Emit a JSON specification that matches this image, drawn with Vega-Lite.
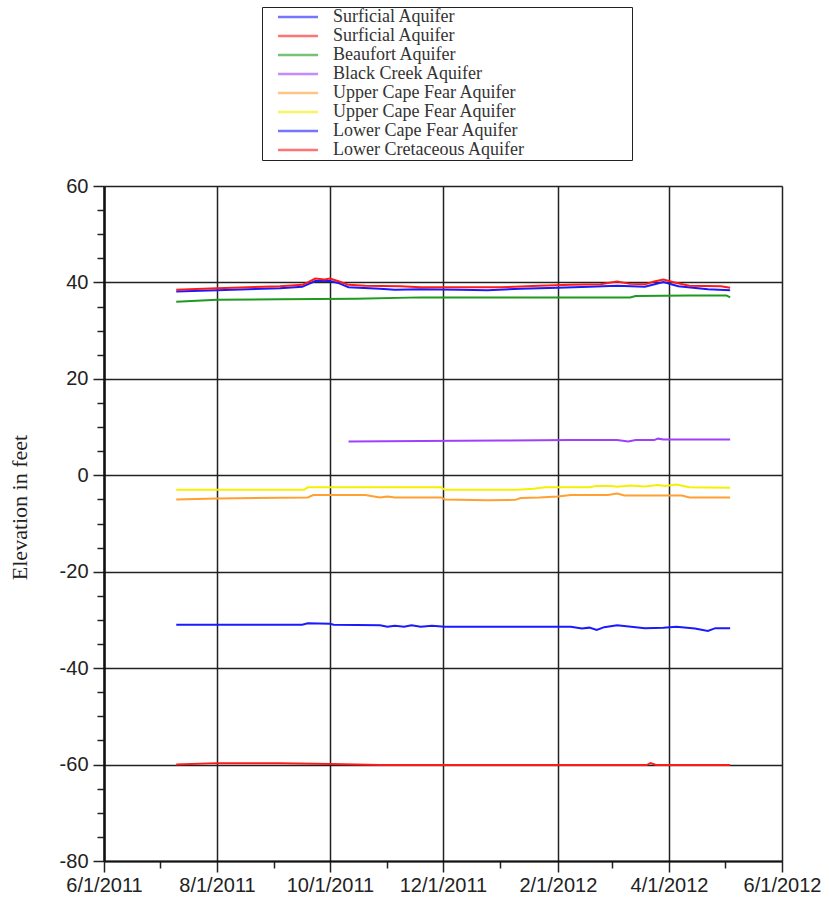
{
  "$schema": "https://vega.github.io/schema/vega-lite/v6.json",
  "autosize": {"type": "none"},
  "padding": {"left": 104, "top": 186, "right": 47, "bottom": 39},
  "width": 678,
  "height": 675,
  "background": "white",
  "config": {
    "view": {"stroke": null},
    "axis": {"labelFont": "Liberation Sans", "labelColor": "#222", "tickColor": "#222", "domainColor": "#111", "gridColor": "#222"}
  },
  "data": {"values": [
    {"id": 1, "aquifer": "Surficial Aquifer", "date": "2011-07-10T00:00", "elev": 38.1},
    {"id": 1, "aquifer": "Surficial Aquifer", "date": "2011-08-01T00:00", "elev": 38.4},
    {"id": 1, "aquifer": "Surficial Aquifer", "date": "2011-09-04T00:00", "elev": 38.8},
    {"id": 1, "aquifer": "Surficial Aquifer", "date": "2011-09-16T00:00", "elev": 39.1},
    {"id": 1, "aquifer": "Surficial Aquifer", "date": "2011-09-19T00:00", "elev": 39.6},
    {"id": 1, "aquifer": "Surficial Aquifer", "date": "2011-09-23T00:00", "elev": 40.3},
    {"id": 1, "aquifer": "Surficial Aquifer", "date": "2011-10-01T00:00", "elev": 40.3},
    {"id": 1, "aquifer": "Surficial Aquifer", "date": "2011-10-06T00:00", "elev": 39.8},
    {"id": 1, "aquifer": "Surficial Aquifer", "date": "2011-10-11T00:00", "elev": 39.0},
    {"id": 1, "aquifer": "Surficial Aquifer", "date": "2011-10-28T00:00", "elev": 38.7},
    {"id": 1, "aquifer": "Surficial Aquifer", "date": "2011-11-05T00:00", "elev": 38.5},
    {"id": 1, "aquifer": "Surficial Aquifer", "date": "2011-11-19T00:00", "elev": 38.6},
    {"id": 1, "aquifer": "Surficial Aquifer", "date": "2011-12-10T00:00", "elev": 38.5},
    {"id": 1, "aquifer": "Surficial Aquifer", "date": "2011-12-25T00:00", "elev": 38.4},
    {"id": 1, "aquifer": "Surficial Aquifer", "date": "2012-01-12T00:00", "elev": 38.7},
    {"id": 1, "aquifer": "Surficial Aquifer", "date": "2012-02-01T00:00", "elev": 38.9},
    {"id": 1, "aquifer": "Surficial Aquifer", "date": "2012-02-18T00:00", "elev": 39.1},
    {"id": 1, "aquifer": "Surficial Aquifer", "date": "2012-03-04T00:00", "elev": 39.3},
    {"id": 1, "aquifer": "Surficial Aquifer", "date": "2012-03-19T00:00", "elev": 39.1},
    {"id": 1, "aquifer": "Surficial Aquifer", "date": "2012-03-29T00:00", "elev": 40.1},
    {"id": 1, "aquifer": "Surficial Aquifer", "date": "2012-04-06T00:00", "elev": 39.2},
    {"id": 1, "aquifer": "Surficial Aquifer", "date": "2012-04-22T00:00", "elev": 38.6},
    {"id": 1, "aquifer": "Surficial Aquifer", "date": "2012-05-04T00:00", "elev": 38.4},

    {"id": 2, "aquifer": "Surficial Aquifer", "date": "2011-07-10T00:00", "elev": 38.5},
    {"id": 2, "aquifer": "Surficial Aquifer", "date": "2011-08-01T00:00", "elev": 38.8},
    {"id": 2, "aquifer": "Surficial Aquifer", "date": "2011-09-04T00:00", "elev": 39.2},
    {"id": 2, "aquifer": "Surficial Aquifer", "date": "2011-09-16T00:00", "elev": 39.5},
    {"id": 2, "aquifer": "Surficial Aquifer", "date": "2011-09-19T00:00", "elev": 40.0},
    {"id": 2, "aquifer": "Surficial Aquifer", "date": "2011-09-23T00:00", "elev": 40.8},
    {"id": 2, "aquifer": "Surficial Aquifer", "date": "2011-09-28T00:00", "elev": 40.6},
    {"id": 2, "aquifer": "Surficial Aquifer", "date": "2011-10-01T00:00", "elev": 40.8},
    {"id": 2, "aquifer": "Surficial Aquifer", "date": "2011-10-06T00:00", "elev": 40.2},
    {"id": 2, "aquifer": "Surficial Aquifer", "date": "2011-10-11T00:00", "elev": 39.5},
    {"id": 2, "aquifer": "Surficial Aquifer", "date": "2011-10-20T00:00", "elev": 39.3},
    {"id": 2, "aquifer": "Surficial Aquifer", "date": "2011-11-08T00:00", "elev": 39.2},
    {"id": 2, "aquifer": "Surficial Aquifer", "date": "2011-11-19T00:00", "elev": 39.0},
    {"id": 2, "aquifer": "Surficial Aquifer", "date": "2011-12-10T00:00", "elev": 39.0},
    {"id": 2, "aquifer": "Surficial Aquifer", "date": "2012-01-01T00:00", "elev": 39.0},
    {"id": 2, "aquifer": "Surficial Aquifer", "date": "2012-01-22T00:00", "elev": 39.3},
    {"id": 2, "aquifer": "Surficial Aquifer", "date": "2012-02-08T00:00", "elev": 39.5},
    {"id": 2, "aquifer": "Surficial Aquifer", "date": "2012-02-24T00:00", "elev": 39.6},
    {"id": 2, "aquifer": "Surficial Aquifer", "date": "2012-03-04T00:00", "elev": 40.2},
    {"id": 2, "aquifer": "Surficial Aquifer", "date": "2012-03-11T00:00", "elev": 39.7},
    {"id": 2, "aquifer": "Surficial Aquifer", "date": "2012-03-19T00:00", "elev": 39.6},
    {"id": 2, "aquifer": "Surficial Aquifer", "date": "2012-03-24T00:00", "elev": 40.2},
    {"id": 2, "aquifer": "Surficial Aquifer", "date": "2012-03-29T00:00", "elev": 40.6},
    {"id": 2, "aquifer": "Surficial Aquifer", "date": "2012-04-04T00:00", "elev": 40.0},
    {"id": 2, "aquifer": "Surficial Aquifer", "date": "2012-04-12T00:00", "elev": 39.3},
    {"id": 2, "aquifer": "Surficial Aquifer", "date": "2012-04-29T00:00", "elev": 39.2},
    {"id": 2, "aquifer": "Surficial Aquifer", "date": "2012-05-04T00:00", "elev": 38.9},

    {"id": 3, "aquifer": "Beaufort Aquifer", "date": "2011-07-10T00:00", "elev": 36.0},
    {"id": 3, "aquifer": "Beaufort Aquifer", "date": "2011-08-01T00:00", "elev": 36.4},
    {"id": 3, "aquifer": "Beaufort Aquifer", "date": "2011-09-04T00:00", "elev": 36.5},
    {"id": 3, "aquifer": "Beaufort Aquifer", "date": "2011-10-15T00:00", "elev": 36.6},
    {"id": 3, "aquifer": "Beaufort Aquifer", "date": "2011-11-19T00:00", "elev": 36.9},
    {"id": 3, "aquifer": "Beaufort Aquifer", "date": "2012-01-01T00:00", "elev": 36.9},
    {"id": 3, "aquifer": "Beaufort Aquifer", "date": "2012-02-18T00:00", "elev": 36.9},
    {"id": 3, "aquifer": "Beaufort Aquifer", "date": "2012-03-11T00:00", "elev": 36.9},
    {"id": 3, "aquifer": "Beaufort Aquifer", "date": "2012-03-14T00:00", "elev": 37.2},
    {"id": 3, "aquifer": "Beaufort Aquifer", "date": "2012-04-12T00:00", "elev": 37.3},
    {"id": 3, "aquifer": "Beaufort Aquifer", "date": "2012-05-02T00:00", "elev": 37.3},
    {"id": 3, "aquifer": "Beaufort Aquifer", "date": "2012-05-04T00:00", "elev": 36.9},

    {"id": 4, "aquifer": "Black Creek Aquifer", "date": "2011-10-11T00:00", "elev": 7.0},
    {"id": 4, "aquifer": "Black Creek Aquifer", "date": "2011-11-19T00:00", "elev": 7.1},
    {"id": 4, "aquifer": "Black Creek Aquifer", "date": "2012-01-01T00:00", "elev": 7.2},
    {"id": 4, "aquifer": "Black Creek Aquifer", "date": "2012-02-08T00:00", "elev": 7.3},
    {"id": 4, "aquifer": "Black Creek Aquifer", "date": "2012-03-04T00:00", "elev": 7.3},
    {"id": 4, "aquifer": "Black Creek Aquifer", "date": "2012-03-10T00:00", "elev": 7.0},
    {"id": 4, "aquifer": "Black Creek Aquifer", "date": "2012-03-14T00:00", "elev": 7.3},
    {"id": 4, "aquifer": "Black Creek Aquifer", "date": "2012-03-24T00:00", "elev": 7.3},
    {"id": 4, "aquifer": "Black Creek Aquifer", "date": "2012-03-26T00:00", "elev": 7.6},
    {"id": 4, "aquifer": "Black Creek Aquifer", "date": "2012-03-29T00:00", "elev": 7.4},
    {"id": 4, "aquifer": "Black Creek Aquifer", "date": "2012-05-04T00:00", "elev": 7.4},

    {"id": 5, "aquifer": "Upper Cape Fear Aquifer", "date": "2011-07-10T00:00", "elev": -5.0},
    {"id": 5, "aquifer": "Upper Cape Fear Aquifer", "date": "2011-08-01T00:00", "elev": -4.8},
    {"id": 5, "aquifer": "Upper Cape Fear Aquifer", "date": "2011-09-19T00:00", "elev": -4.6},
    {"id": 5, "aquifer": "Upper Cape Fear Aquifer", "date": "2011-09-22T00:00", "elev": -4.1},
    {"id": 5, "aquifer": "Upper Cape Fear Aquifer", "date": "2011-10-20T00:00", "elev": -4.1},
    {"id": 5, "aquifer": "Upper Cape Fear Aquifer", "date": "2011-10-28T00:00", "elev": -4.6},
    {"id": 5, "aquifer": "Upper Cape Fear Aquifer", "date": "2011-11-01T00:00", "elev": -4.4},
    {"id": 5, "aquifer": "Upper Cape Fear Aquifer", "date": "2011-11-05T00:00", "elev": -4.6},
    {"id": 5, "aquifer": "Upper Cape Fear Aquifer", "date": "2011-11-30T00:00", "elev": -4.6},
    {"id": 5, "aquifer": "Upper Cape Fear Aquifer", "date": "2011-12-02T00:00", "elev": -5.0},
    {"id": 5, "aquifer": "Upper Cape Fear Aquifer", "date": "2011-12-25T00:00", "elev": -5.2},
    {"id": 5, "aquifer": "Upper Cape Fear Aquifer", "date": "2012-01-09T00:00", "elev": -5.1},
    {"id": 5, "aquifer": "Upper Cape Fear Aquifer", "date": "2012-01-12T00:00", "elev": -4.7},
    {"id": 5, "aquifer": "Upper Cape Fear Aquifer", "date": "2012-01-22T00:00", "elev": -4.6},
    {"id": 5, "aquifer": "Upper Cape Fear Aquifer", "date": "2012-02-01T00:00", "elev": -4.4},
    {"id": 5, "aquifer": "Upper Cape Fear Aquifer", "date": "2012-02-08T00:00", "elev": -4.1},
    {"id": 5, "aquifer": "Upper Cape Fear Aquifer", "date": "2012-02-28T00:00", "elev": -4.1},
    {"id": 5, "aquifer": "Upper Cape Fear Aquifer", "date": "2012-03-04T00:00", "elev": -3.8},
    {"id": 5, "aquifer": "Upper Cape Fear Aquifer", "date": "2012-03-08T00:00", "elev": -4.2},
    {"id": 5, "aquifer": "Upper Cape Fear Aquifer", "date": "2012-04-08T00:00", "elev": -4.2},
    {"id": 5, "aquifer": "Upper Cape Fear Aquifer", "date": "2012-04-12T00:00", "elev": -4.6},
    {"id": 5, "aquifer": "Upper Cape Fear Aquifer", "date": "2012-05-04T00:00", "elev": -4.6},

    {"id": 6, "aquifer": "Upper Cape Fear Aquifer", "date": "2011-07-10T00:00", "elev": -3.0},
    {"id": 6, "aquifer": "Upper Cape Fear Aquifer", "date": "2011-09-17T00:00", "elev": -3.0},
    {"id": 6, "aquifer": "Upper Cape Fear Aquifer", "date": "2011-09-19T00:00", "elev": -2.5},
    {"id": 6, "aquifer": "Upper Cape Fear Aquifer", "date": "2011-11-30T00:00", "elev": -2.5},
    {"id": 6, "aquifer": "Upper Cape Fear Aquifer", "date": "2011-12-02T00:00", "elev": -3.0},
    {"id": 6, "aquifer": "Upper Cape Fear Aquifer", "date": "2012-01-10T00:00", "elev": -3.0},
    {"id": 6, "aquifer": "Upper Cape Fear Aquifer", "date": "2012-01-19T00:00", "elev": -2.8},
    {"id": 6, "aquifer": "Upper Cape Fear Aquifer", "date": "2012-01-25T00:00", "elev": -2.5},
    {"id": 6, "aquifer": "Upper Cape Fear Aquifer", "date": "2012-02-18T00:00", "elev": -2.5},
    {"id": 6, "aquifer": "Upper Cape Fear Aquifer", "date": "2012-02-22T00:00", "elev": -2.2},
    {"id": 6, "aquifer": "Upper Cape Fear Aquifer", "date": "2012-03-01T00:00", "elev": -2.2},
    {"id": 6, "aquifer": "Upper Cape Fear Aquifer", "date": "2012-03-04T00:00", "elev": -2.4},
    {"id": 6, "aquifer": "Upper Cape Fear Aquifer", "date": "2012-03-11T00:00", "elev": -2.1},
    {"id": 6, "aquifer": "Upper Cape Fear Aquifer", "date": "2012-03-19T00:00", "elev": -2.3},
    {"id": 6, "aquifer": "Upper Cape Fear Aquifer", "date": "2012-03-26T00:00", "elev": -2.0},
    {"id": 6, "aquifer": "Upper Cape Fear Aquifer", "date": "2012-03-30T00:00", "elev": -2.2},
    {"id": 6, "aquifer": "Upper Cape Fear Aquifer", "date": "2012-04-05T00:00", "elev": -1.9},
    {"id": 6, "aquifer": "Upper Cape Fear Aquifer", "date": "2012-04-12T00:00", "elev": -2.5},
    {"id": 6, "aquifer": "Upper Cape Fear Aquifer", "date": "2012-05-04T00:00", "elev": -2.6},

    {"id": 7, "aquifer": "Lower Cape Fear Aquifer", "date": "2011-07-10T00:00", "elev": -31.0},
    {"id": 7, "aquifer": "Lower Cape Fear Aquifer", "date": "2011-09-16T00:00", "elev": -31.0},
    {"id": 7, "aquifer": "Lower Cape Fear Aquifer", "date": "2011-09-19T00:00", "elev": -30.7},
    {"id": 7, "aquifer": "Lower Cape Fear Aquifer", "date": "2011-10-01T00:00", "elev": -30.8},
    {"id": 7, "aquifer": "Lower Cape Fear Aquifer", "date": "2011-10-03T00:00", "elev": -31.0},
    {"id": 7, "aquifer": "Lower Cape Fear Aquifer", "date": "2011-10-28T00:00", "elev": -31.1},
    {"id": 7, "aquifer": "Lower Cape Fear Aquifer", "date": "2011-11-01T00:00", "elev": -31.4},
    {"id": 7, "aquifer": "Lower Cape Fear Aquifer", "date": "2011-11-05T00:00", "elev": -31.2},
    {"id": 7, "aquifer": "Lower Cape Fear Aquifer", "date": "2011-11-10T00:00", "elev": -31.4},
    {"id": 7, "aquifer": "Lower Cape Fear Aquifer", "date": "2011-11-14T00:00", "elev": -31.1},
    {"id": 7, "aquifer": "Lower Cape Fear Aquifer", "date": "2011-11-19T00:00", "elev": -31.4},
    {"id": 7, "aquifer": "Lower Cape Fear Aquifer", "date": "2011-11-25T00:00", "elev": -31.2},
    {"id": 7, "aquifer": "Lower Cape Fear Aquifer", "date": "2011-12-02T00:00", "elev": -31.4},
    {"id": 7, "aquifer": "Lower Cape Fear Aquifer", "date": "2012-02-08T00:00", "elev": -31.4},
    {"id": 7, "aquifer": "Lower Cape Fear Aquifer", "date": "2012-02-14T00:00", "elev": -31.8},
    {"id": 7, "aquifer": "Lower Cape Fear Aquifer", "date": "2012-02-18T00:00", "elev": -31.6},
    {"id": 7, "aquifer": "Lower Cape Fear Aquifer", "date": "2012-02-22T00:00", "elev": -32.1},
    {"id": 7, "aquifer": "Lower Cape Fear Aquifer", "date": "2012-02-26T00:00", "elev": -31.5},
    {"id": 7, "aquifer": "Lower Cape Fear Aquifer", "date": "2012-03-04T00:00", "elev": -31.1},
    {"id": 7, "aquifer": "Lower Cape Fear Aquifer", "date": "2012-03-14T00:00", "elev": -31.5},
    {"id": 7, "aquifer": "Lower Cape Fear Aquifer", "date": "2012-03-19T00:00", "elev": -31.7},
    {"id": 7, "aquifer": "Lower Cape Fear Aquifer", "date": "2012-03-29T00:00", "elev": -31.6},
    {"id": 7, "aquifer": "Lower Cape Fear Aquifer", "date": "2012-04-05T00:00", "elev": -31.4},
    {"id": 7, "aquifer": "Lower Cape Fear Aquifer", "date": "2012-04-15T00:00", "elev": -31.8},
    {"id": 7, "aquifer": "Lower Cape Fear Aquifer", "date": "2012-04-22T00:00", "elev": -32.3},
    {"id": 7, "aquifer": "Lower Cape Fear Aquifer", "date": "2012-04-26T00:00", "elev": -31.7},
    {"id": 7, "aquifer": "Lower Cape Fear Aquifer", "date": "2012-05-04T00:00", "elev": -31.7},

    {"id": 8, "aquifer": "Lower Cretaceous Aquifer", "date": "2011-07-10T00:00", "elev": -60.0},
    {"id": 8, "aquifer": "Lower Cretaceous Aquifer", "date": "2011-08-01T00:00", "elev": -59.7},
    {"id": 8, "aquifer": "Lower Cretaceous Aquifer", "date": "2011-09-04T00:00", "elev": -59.7},
    {"id": 8, "aquifer": "Lower Cretaceous Aquifer", "date": "2011-10-01T00:00", "elev": -59.9},
    {"id": 8, "aquifer": "Lower Cretaceous Aquifer", "date": "2011-10-28T00:00", "elev": -60.1},
    {"id": 8, "aquifer": "Lower Cretaceous Aquifer", "date": "2012-03-20T00:00", "elev": -60.1},
    {"id": 8, "aquifer": "Lower Cretaceous Aquifer", "date": "2012-03-22T00:00", "elev": -59.7},
    {"id": 8, "aquifer": "Lower Cretaceous Aquifer", "date": "2012-03-25T00:00", "elev": -60.1},
    {"id": 8, "aquifer": "Lower Cretaceous Aquifer", "date": "2012-05-04T00:00", "elev": -60.1}
  ]},
  "resolve": {"axis": {"x": "independent", "y": "independent"}},
  "layer": [
    {
      "mark": {"type": "line", "strokeOpacity": 0},
      "encoding": {
        "detail": {"field": "id", "type": "nominal"},
        "x": {"field": "date", "type": "temporal",
          "scale": {"domain": [{"year": 2011, "month": 6, "date": 1}, {"year": 2012, "month": 6, "date": 1}], "nice": false},
          "axis": {"orient": "bottom", "title": null, "labels": false, "domain": false, "grid": false, "tickSize": 7, "tickWidth": 1.5,
            "values": [{"year": 2011, "month": 7, "date": 1}, {"year": 2011, "month": 9, "date": 1}, {"year": 2011, "month": 11, "date": 1}, {"year": 2012, "month": 1, "date": 1}, {"year": 2012, "month": 3, "date": 1}, {"year": 2012, "month": 5, "date": 1}]}},
        "y": {"field": "elev", "type": "quantitative",
          "scale": {"domain": [-80, 60], "nice": false, "zero": false},
          "axis": {"orient": "left", "title": null, "labels": false, "domain": false, "grid": false, "tickSize": 7, "tickWidth": 1.5,
            "values": [-75, -70, -65, -55, -50, -45, -35, -30, -25, -15, -10, -5, 5, 10, 15, 25, 30, 35, 45, 50, 55]}}
      }
    },
    {
      "mark": {"type": "line", "strokeWidth": 2, "interpolate": "linear"},
      "encoding": {
        "x": {"field": "date", "type": "temporal",
          "axis": {"orient": "bottom", "title": null, "format": "%-m/%-d/%Y", "labelFontSize": 20, "labelPadding": 3, "labelOverlap": false, "labelFlush": false, "tickSize": 11, "tickWidth": 1.5,
            "grid": true, "gridWidth": 1.5, "domainWidth": 2,
            "values": [{"year": 2011, "month": 6, "date": 1}, {"year": 2011, "month": 8, "date": 1}, {"year": 2011, "month": 10, "date": 1}, {"year": 2011, "month": 12, "date": 1}, {"year": 2012, "month": 2, "date": 1}, {"year": 2012, "month": 4, "date": 1}, {"year": 2012, "month": 6, "date": 1}]}},
        "y": {"field": "elev", "type": "quantitative",
          "axis": {"orient": "left", "title": "Elevation in feet", "titleFont": "Liberation Serif", "titleFontSize": 22, "titleFontWeight": "normal", "titleColor": "#222",
            "titleX": -73, "titleY": 321, "titleAngle": -90, "titleAlign": "center", "titleBaseline": "bottom",
            "labelExpr": "datum.value < 0 ? '-' + abs(datum.value) : '' + datum.value",
            "labelFontSize": 20, "labelPadding": 5, "labelOverlap": false, "labelFlush": false, "tickSize": 11, "tickWidth": 1.5, "grid": true, "gridWidth": 1.5, "domainWidth": 2.5,
            "values": [-80, -60, -40, -20, 0, 20, 40, 60]}},
        "color": {"field": "id", "type": "nominal",
          "scale": {"domain": [1, 2, 3, 4, 5, 6, 7, 8], "range": ["#1a1aff", "#ff1a1a", "#1f9a1f", "#a040ff", "#ffa030", "#f5f000", "#1a1aff", "#ff1a1a"]},
          "legend": {"orient": "none", "legendX": 158, "legendY": -179, "direction": "vertical",
            "title": "\u00a0", "titleOrient": "right", "titlePadding": 106, "titleColor": "white",
            "labelExpr": "['Surficial Aquifer','Surficial Aquifer','Beaufort Aquifer','Black Creek Aquifer','Upper Cape Fear Aquifer','Upper Cape Fear Aquifer','Lower Cape Fear Aquifer','Lower Cretaceous Aquifer'][toNumber(datum.label)-1]",
            "labelFont": "Liberation Serif", "labelFontSize": 18, "labelColor": "#333", "labelOffset": 26, "labelLimit": 400,
            "symbolType": "M-4,0H4", "symbolSize": 100, "symbolStrokeWidth": 2.5, "symbolOpacity": 0.6, "symbolOffset": 26,
            "padding": 1, "rowPadding": 1, "fillColor": "white", "strokeColor": "#222"}}
      }
    }
  ]
}
